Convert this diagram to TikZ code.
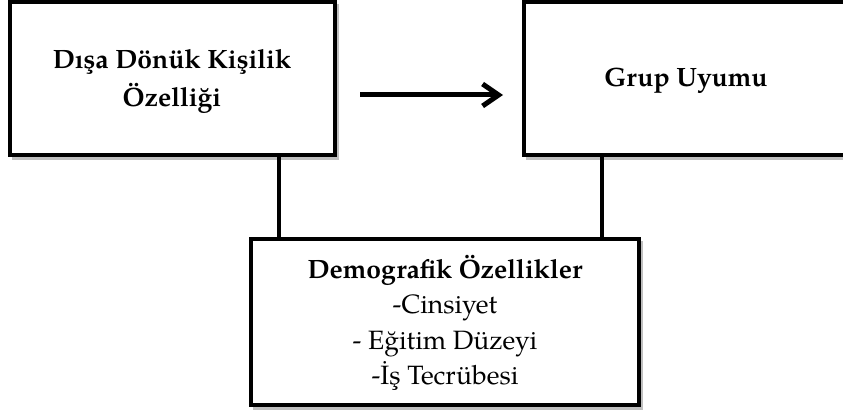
\documentclass[tikz,border=0pt]{standalone}
\usepackage{fontspec}
\setmainfont{texgyrepagella}[Extension=.otf,UprightFont=*-regular,BoldFont=*-bold,ItalicFont=*-italic,BoldItalicFont=*-bolditalic]
\usetikzlibrary{arrows.meta}
\begin{document}
\begin{tikzpicture}[x=1pt,y=-1pt,
  box/.style={draw=black,line width=4pt,fill=white},
  shad/.style={draw=black!25,line width=4pt},
  lbl/.style={align=center},
  conn/.style={line width=4pt}]
\useasboundingbox (0,0) rectangle (843,414);
% faint shadows
\draw[shad] (12,158) -- (337,158) -- (337,4);
\draw[shad] (526,158) -- (852,158);
\draw[shad] (253,408) -- (641,408) -- (641,241);
% boxes
\draw[box] (10,2) rectangle (335,155);
\draw[box] (524,2) rectangle (852,155);
\draw[box] (251,239) rectangle (639,405);
\node[lbl,font=\fontsize{26.5}{38}\selectfont\bfseries] (a) at (172,81) {Dışa Dönük Kişilik\\Özelliği};
\node[lbl,font=\fontsize{26.5}{37}\selectfont\bfseries] (b) at (686,81) {Grup Uyumu};
\node[lbl,font=\fontsize{26.5}{35.5}\selectfont] (c) at (445,323) {\textbf{Demografik Özellikler}\\-Cinsiyet\\- Eğitim Düzeyi\\-İş Tecrübesi};
\coordinate (a1) at (279,157);
\coordinate (a2) at (279,237);
\coordinate (b1) at (602,157);
\coordinate (b2) at (602,237);
\draw[conn] (a1) -- (a2);
\draw[conn] (b1) -- (b2);
\coordinate (s) at (360,95);
\coordinate (e) at (503,95);
\draw[line width=5pt,-{Straight Barb[length=16pt,width=22pt,line width=5pt]}] (s) -- (e);
\end{tikzpicture}
\end{document}
